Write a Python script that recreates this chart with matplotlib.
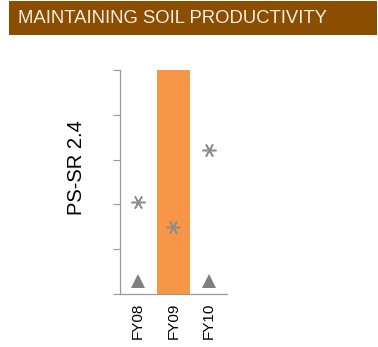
import matplotlib
matplotlib.use("Agg")
import matplotlib.pyplot as plt
from matplotlib.patches import Rectangle

title = "MAINTAINING SOIL PRODUCTIVITY"
categories = ["FY08", "FY09", "FY10"]
bar_values = [0, 5, 0]
star_values = [2.05, 1.5, 3.22]
triangle_values = [0.3, None, 0.3]
ylabel = "PS-SR 2.4"

plt.rcParams['font.family'] = ['Liberation Sans', 'DejaVu Sans']

fig = plt.figure(figsize=(3.78, 3.47), dpi=100)
fig.patch.set_facecolor('white')

# Title banner
banner = Rectangle((9/378, 1 - 35/347), (377-9)/378, 34/347, transform=fig.transFigure,
                   facecolor='#8B4E00', edgecolor='none')
fig.patches.append(banner)
fig.text(18/378, 1 - 18.5/347, title, color='#F2EDE6', fontsize=13.3, va='center', ha='left')

ax = fig.add_axes([120/378, 1 - 294/347, 107/378, 224/347])
x = list(range(len(categories)))
ax.bar(x, bar_values, width=0.92, color='#F79646', zorder=1)
ax.plot(x, star_values, linestyle='none', marker=(6, 2, 90), markersize=10,
        markeredgecolor='#8C8C8C', markeredgewidth=1.1, zorder=3)
tx = [xi for xi, v in zip(x, triangle_values) if v is not None]
tv = [v for v in triangle_values if v is not None]
ax.plot(tx, tv, linestyle='none', marker='^', markersize=9.5, color='#7F7F7F',
        markeredgewidth=0, zorder=3)

ax.set_xlim(-0.5, 2.5)
ax.set_ylim(0, 5)
ax.set_yticks([0, 1, 2, 3, 4, 5])
ax.set_yticklabels([])
ax.set_xticks(x)
ax.set_xticklabels(categories, rotation=90, fontsize=11)
ax.tick_params(axis='x', length=0, pad=6)
ax.tick_params(axis='y', length=5, width=0.8, color='#999999', direction='out')
for s in ['top', 'right']:
    ax.spines[s].set_visible(False)
for s in ['left', 'bottom']:
    ax.spines[s].set_color('#999999')
    ax.spines[s].set_linewidth(0.9)

fig.text(76/378, 1 - 168/347, ylabel, fontsize=14.5, rotation=90, ha='center', va='center')

fig.savefig("out.png", dpi=100)
